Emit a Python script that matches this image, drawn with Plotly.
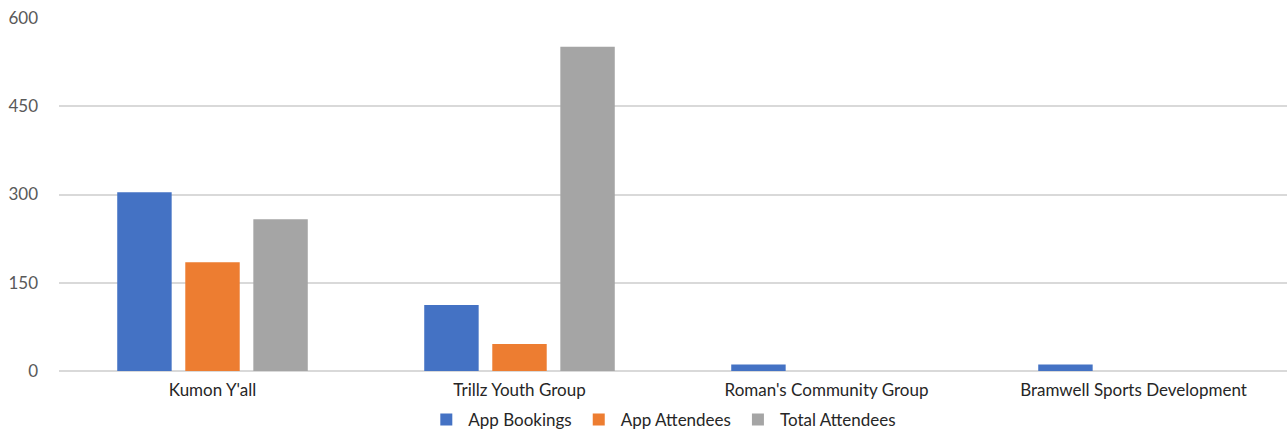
import plotly.graph_objects as go

# Organisation groups and their booking / attendance counts
groups = ["Kumon Y'all", "Trillz Youth Group", "Roman's Community Group", "Bramwell Sports Development"]
app_bookings = [304, 112, 11, 11]
app_attendees = [185, 46, 0, 0]
total_attendees = [258, 551, 0, 0]

series = [
    ("App Bookings", app_bookings, "#4472C4"),
    ("App Attendees", app_attendees, "#ED7D31"),
    ("Total Attendees", total_attendees, "#A5A5A5"),
]

fig = go.Figure()
for name, vals, color in series:
    fig.add_trace(go.Bar(x=groups, y=vals, name=name, marker_color=color,
                         marker_line_width=0))

fig.update_layout(
    width=1287, height=432,
    margin=dict(l=59, r=0, t=18, b=61, autoexpand=False),
    paper_bgcolor="white", plot_bgcolor="white",
    barmode="group", bargap=0.335, bargroupgap=0.2,
    font=dict(family="Lato", size=17, color="#404040"),
    showlegend=True,
    legend=dict(orientation="h", x=0.515, xanchor="center", xref="container",
                y=0.028, yanchor="middle", yref="container",
                font=dict(size=17, color="#262626"), itemwidth=34,
                traceorder="normal"),
    xaxis=dict(showgrid=False, showline=False, ticks="", automargin=False,
               tickfont=dict(size=17, color="#262626"), ticklabelstandoff=7),
    yaxis=dict(range=[0, 600], tickvals=[0, 150, 300, 450, 600], automargin=False,
               showgrid=True, gridcolor="#D9D9D9", gridwidth=1.5,
               zeroline=True, zerolinecolor="#D9D9D9", zerolinewidth=1.5,
               tickfont=dict(size=17, color="#595959"), ticklabelstandoff=20),
)

fig.write_html("out.html")
